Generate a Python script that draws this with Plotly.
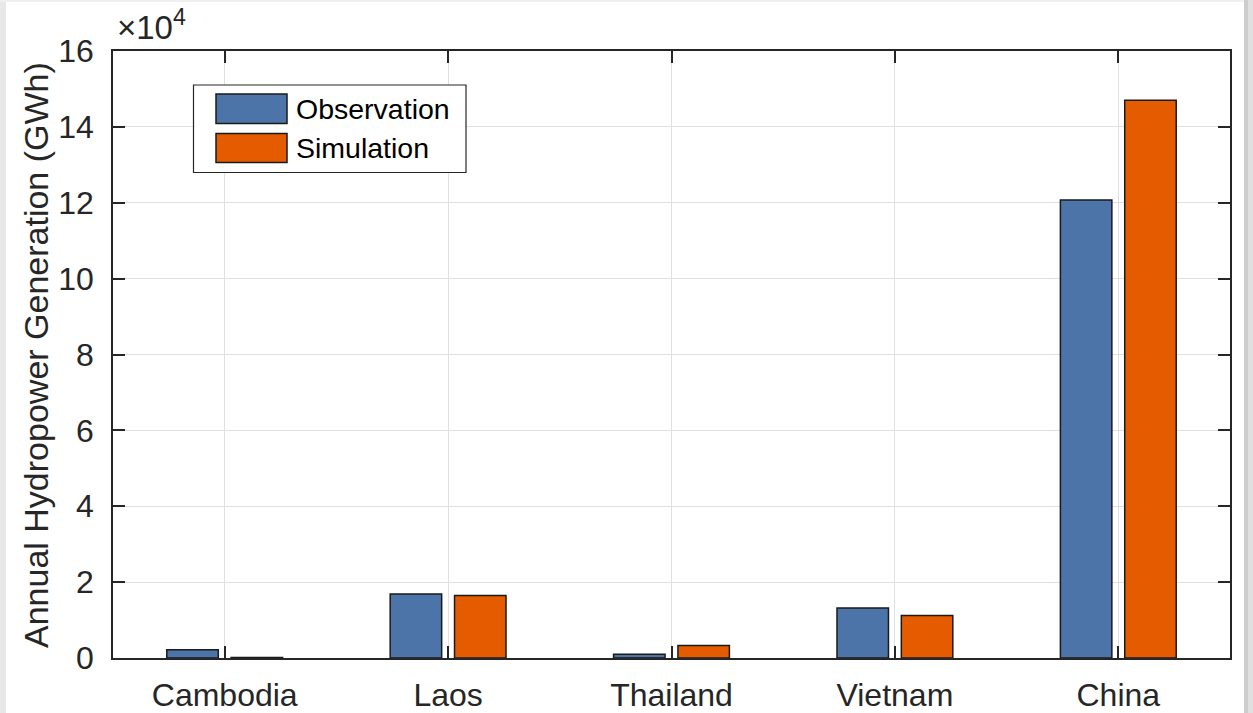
import plotly.graph_objects as go

# Annual hydropower generation per country (GWh)
countries = ["Cambodia", "Laos", "Thailand", "Vietnam", "China"]
observation = [2200, 16900, 1000, 13200, 120700]
simulation = [150, 16500, 3300, 11200, 147000]

y_ticks = [0, 20000, 40000, 60000, 80000, 100000, 120000, 140000, 160000]
y_tick_text = ["0", "2", "4", "6", "8", "10", "12", "14", "16"]

BLUE = "#4d74a9"
ORANGE = "#e55b00"
AXIS = "#262626"
GRID = "#e0e0e0"
FONT = "Liberation Sans, Arial, Helvetica, sans-serif"

W, H = 1253, 713
ML, MR, MT, MB = 113, 23, 51, 55
PW, PH = W - ML - MR, H - MT - MB


def px(x):
    return (x - ML) / PW


def py(y):
    return (H - MB - y) / PH


fig = go.Figure()
fig.add_trace(go.Bar(x=countries, y=observation, name="Observation",
                     marker=dict(color=BLUE, line=dict(color="#1a1a1a", width=1.5)),
                     showlegend=False))
fig.add_trace(go.Bar(x=countries, y=simulation, name="Simulation",
                     marker=dict(color=ORANGE, line=dict(color="#1a1a1a", width=1.5)),
                     showlegend=False))

fig.update_layout(
    width=W, height=H,
    margin=dict(l=ML, r=MR, t=MT, b=MB, autoexpand=False),
    paper_bgcolor="white", plot_bgcolor="white",
    barmode="group", bargap=0.424, bargroupgap=0.2,
    font=dict(family=FONT, color=AXIS),
)

fig.update_xaxes(
    range=[-0.5, 4.5], showgrid=True, gridcolor=GRID, gridwidth=1,
    showline=True, linecolor=AXIS, linewidth=1.5, mirror="ticks",
    ticks="inside", ticklen=12, tickwidth=1.5, tickcolor=AXIS,
    tickfont=dict(size=32, color=AXIS), ticklabelstandoff=8,
    zeroline=False,
)
fig.update_yaxes(
    range=[0, 160000], tickvals=y_ticks, ticktext=y_tick_text,
    showgrid=True, gridcolor=GRID, gridwidth=1,
    showline=True, linecolor=AXIS, linewidth=1.5, mirror="ticks",
    ticks="inside", ticklen=12, tickwidth=1.5, tickcolor=AXIS,
    tickfont=dict(size=32, color=AXIS), ticklabelstandoff=11,
    zeroline=False,
)

# Axis title and exponent label
fig.add_annotation(
    text="Annual Hydropower Generation (GWh)", textangle=-90,
    xref="paper", yref="paper", x=px(36), y=py(355),
    xanchor="center", yanchor="middle", showarrow=False,
    font=dict(size=34, color=AXIS, family=FONT),
)
fig.add_annotation(
    text="×10<sup>4</sup>",
    xref="paper", yref="paper", x=px(115), y=py(48),
    xanchor="left", yanchor="bottom", showarrow=False,
    font=dict(size=33, color=AXIS, family=FONT),
)

# Legend box with wide swatches
shapes = [
    dict(type="rect", xref="paper", yref="paper",
         x0=px(193.5), x1=px(466), y0=py(85), y1=py(172.5),
         fillcolor="white", line=dict(color=AXIS, width=1.2)),
]
legend_items = [("Observation", BLUE, 94, 123.5), ("Simulation", ORANGE, 133.5, 162.5)]
for label, color, top, bottom in legend_items:
    shapes.append(dict(type="rect", xref="paper", yref="paper",
                       x0=px(216), x1=px(287), y0=py(top), y1=py(bottom),
                       fillcolor=color, line=dict(color="#1a1a1a", width=1.5)))
    fig.add_annotation(text=label, xref="paper", yref="paper",
                       x=px(294), y=py((top + bottom) / 2),
                       xanchor="left", yanchor="middle", showarrow=False,
                       font=dict(size=28.5, color="black", family=FONT))

# Light frame around the figure
frame = [
    (0, 6, 0, H, "#e8e8e8"),
    (0, W, 0, 2, "#f0f0f0"),
    (1244, 1248, 0, H, "#cdcdcd"),
    (1248, W, 0, H, "#e0e0e0"),
]
for x0, x1, y0, y1, c in frame:
    shapes.append(dict(type="rect", xref="paper", yref="paper",
                       x0=px(x0), x1=px(x1), y0=py(y0), y1=py(y1),
                       fillcolor=c, line=dict(width=0)))

fig.update_layout(shapes=shapes)
fig.write_html("out.html")
